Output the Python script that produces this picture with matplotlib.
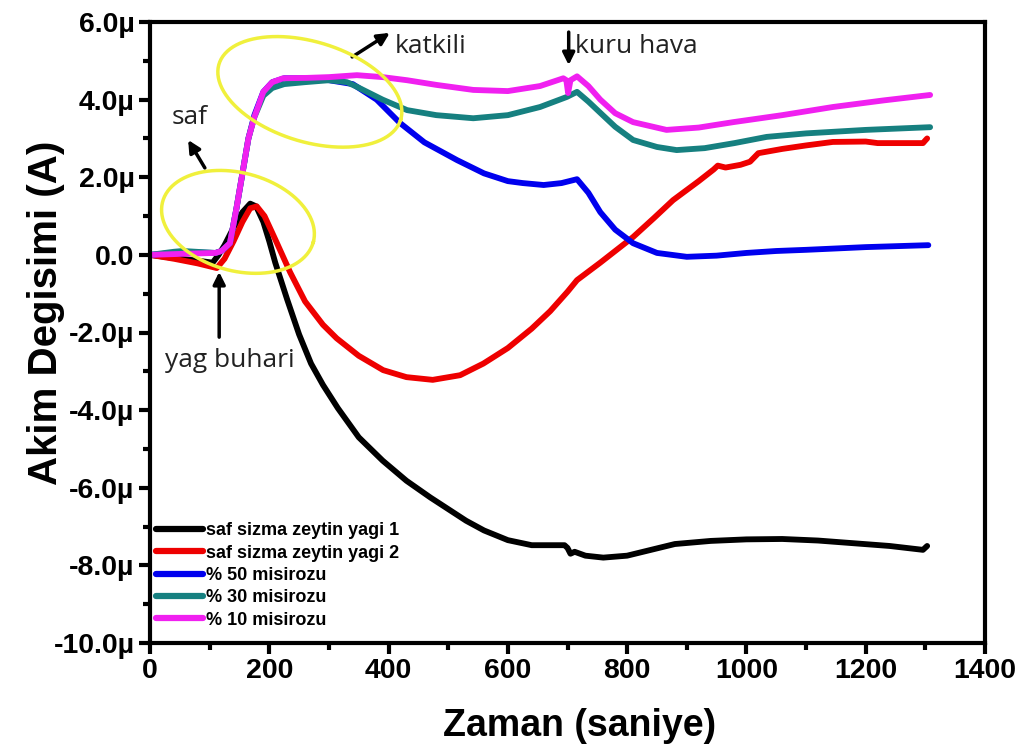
import numpy as np
import matplotlib
matplotlib.use("Agg")
import matplotlib.pyplot as plt
from matplotlib.ticker import MultipleLocator, FuncFormatter

# --- data (time in s, current change in uA) ---
black_x = [0, 40, 80, 105, 115, 125, 140, 155, 168, 178, 190, 200, 210, 230, 250, 270, 290, 315, 350,
           390, 430, 470, 530, 560, 600, 640, 695, 700, 705, 712, 730, 760, 800, 840, 880, 940, 1000,
           1060, 1120, 1180, 1240, 1296, 1303]
black_y = [0, -0.08, -0.15, -0.2, 0.0, 0.25, 0.7, 1.1, 1.32, 1.25, 0.85, 0.35, -0.2, -1.15, -2.05,
           -2.8, -3.35, -3.95, -4.7, -5.3, -5.82, -6.25, -6.85, -7.1, -7.35, -7.48, -7.48, -7.55, -7.7,
           -7.65, -7.75, -7.8, -7.75, -7.6, -7.45, -7.37, -7.33, -7.32, -7.36, -7.43, -7.5, -7.6, -7.5]

red_x = [0, 40, 80, 112, 125, 140, 155, 168, 179, 192, 210, 235, 260, 290, 313, 350, 391, 430, 474, 520,
         559, 600, 640, 671, 700, 716, 755, 780, 810, 845, 877, 920, 945, 952, 965, 990, 1006, 1020, 1060,
         1100, 1145, 1200, 1220, 1241, 1296, 1300, 1303]
red_y = [0, -0.1, -0.22, -0.34, -0.1, 0.35, 0.85, 1.2, 1.25, 1.0, 0.4, -0.45, -1.2, -1.8, -2.15, -2.6,
         -2.97, -3.15, -3.22, -3.1, -2.8, -2.4, -1.9, -1.45, -0.95, -0.65, -0.2, 0.1, 0.46, 0.95, 1.41,
         1.9, 2.2, 2.3, 2.25, 2.32, 2.4, 2.62, 2.73, 2.82, 2.91, 2.92, 2.88, 2.88, 2.88, 2.95, 3.0]

blue_x = [0, 40, 80, 110, 120, 134, 145, 155, 165, 175, 190, 205, 225, 260, 300, 340, 380, 419, 460, 515,
          560, 600, 625, 660, 690, 716, 735, 755, 780, 810, 850, 900, 950, 1000, 1050, 1100, 1200, 1305]
blue_y = [0, 0.05, 0.06, 0.05, 0.1, 0.3, 1.2, 2.1, 3.0, 3.6, 4.2, 4.45, 4.55, 4.55, 4.5, 4.4, 4.0, 3.4,
          2.9, 2.44, 2.1, 1.9, 1.85, 1.8, 1.85, 1.95, 1.6, 1.1, 0.65, 0.3, 0.05, -0.05, -0.02, 0.05, 0.1,
          0.13, 0.2, 0.25]

teal_x = [0, 40, 55, 110, 120, 134, 145, 155, 165, 175, 190, 205, 225, 260, 300, 330, 347, 390, 431, 480,
          542, 600, 654, 699, 716, 735, 755, 780, 810, 850, 883, 930, 980, 1034, 1100, 1200, 1308]
teal_y = [0, 0.08, 0.1, 0.05, 0.1, 0.3, 1.2, 2.1, 3.0, 3.55, 4.1, 4.3, 4.4, 4.45, 4.5, 4.45, 4.33, 4.0,
          3.73, 3.6, 3.52, 3.6, 3.81, 4.07, 4.2, 3.95, 3.66, 3.3, 2.96, 2.78, 2.7, 2.75, 2.88, 3.04, 3.13,
          3.22, 3.29]

mag_x = [0, 40, 110, 120, 134, 145, 155, 165, 175, 190, 205, 223, 263, 300, 347, 390, 431, 480, 542, 600,
         654, 693, 698, 701, 705, 716, 735, 755, 780, 810, 866, 920, 978, 1060, 1145, 1230, 1308]
mag_y = [0, 0.02, 0.05, 0.1, 0.3, 1.2, 2.1, 3.0, 3.55, 4.2, 4.45, 4.55, 4.56, 4.58, 4.63, 4.58, 4.5, 4.38,
         4.25, 4.22, 4.35, 4.55, 4.5, 4.17, 4.5, 4.6, 4.35, 4.0, 3.65, 3.42, 3.22, 3.28, 3.42, 3.6, 3.81,
         3.98, 4.12]

labels = ["saf sizma zeytin yagi 1", "saf sizma zeytin yagi 2", "% 50 misirozu",
          "% 30 misirozu", "% 10 misirozu"]
colors = ["black", "#ee0000", "#0000ee", "#168080", "#f020f0"]

# --- figure ---
fig = plt.figure(figsize=(10.25, 7.46), dpi=100)
ax = fig.add_axes([150 / 1025, 1 - 643 / 746, 835 / 1025, 621 / 746])

series = [(black_x, black_y), (red_x, red_y), (blue_x, blue_y), (teal_x, teal_y), (mag_x, mag_y)]
for (xs, ys), c, lab in zip(series, colors, labels):
    ax.plot(xs, ys, color=c, lw=4.2, label=lab, solid_capstyle="round")

ax.set_xlim(0, 1400)
ax.set_ylim(-10, 6)
ax.xaxis.set_major_locator(MultipleLocator(200))
ax.xaxis.set_minor_locator(MultipleLocator(100))
ax.yaxis.set_major_locator(MultipleLocator(2))
ax.yaxis.set_minor_locator(MultipleLocator(1))


def ufmt(v, pos):
    if abs(v) < 1e-9:
        return "0.0"
    return ("-" if v < 0 else "") + "%.1f\u00b5" % abs(v)


ax.yaxis.set_major_formatter(FuncFormatter(ufmt))
ax.tick_params(which="both", direction="out", width=3, top=False, right=False)
ax.tick_params(which="major", length=8, pad=3)
ax.tick_params(which="minor", length=5)
for lab in ax.get_xticklabels() + ax.get_yticklabels():
    lab.set_fontfamily(["Liberation Sans", "DejaVu Sans"])
    lab.set_fontweight("bold")
    lab.set_fontsize(20.5)
for sp in ax.spines.values():
    sp.set_linewidth(3)

ax.set_xlabel("Zaman (saniye)", fontsize=27, fontweight="bold", family=["Liberation Sans", "DejaVu Sans"])
ax.xaxis.set_label_coords(0.515, -0.105)
ax.set_ylabel("Akim Degisimi (A)", fontsize=29, fontweight="bold",
              family=["Liberation Sans Narrow", "Liberation Sans", "DejaVu Sans"])
ax.yaxis.set_label_coords(-0.102, 0.531)

# --- yellow ellipses (shape set in pixels, placed in data coords) ---
px_x = 1400 / 835
px_y = 16 / 621
t = np.linspace(0, 2 * np.pi, 200)
for cx, cy, a, b, ang in [(147.5, 0.85, 78, 49, -15), (268, 4.2, 95, 50, -17)]:
    th = np.radians(ang)
    dx = a * np.cos(t) * np.cos(th) - b * np.sin(t) * np.sin(th)
    dy = a * np.cos(t) * np.sin(th) + b * np.sin(t) * np.cos(th)
    ax.plot(cx + dx * px_x, cy + dy * px_y, color="#f0f03c", lw=2.5, zorder=5)

# --- annotations ---
afont = ["Open Sans", "DejaVu Sans"]
arw = dict(arrowstyle="-|>", color="black", lw=2.5, mutation_scale=18, shrinkA=0, shrinkB=0)
ax.annotate("", xy=(402, 5.72), xytext=(339, 5.10), arrowprops=arw)
ax.text(411, 5.36, "katkili", fontsize=19, family=afont, ha="left", va="center", color="#222222")
ax.annotate("", xy=(702, 4.89), xytext=(702, 5.74), arrowprops=arw)
ax.text(712, 5.36, "kuru hava", fontsize=19, family=afont, ha="left", va="center", color="#222222")
ax.annotate("", xy=(64, 2.96), xytext=(92, 2.24), arrowprops=arw)
ax.text(67, 3.55, "saf", fontsize=19, family=afont, ha="center", va="center", color="#222222")
ax.annotate("", xy=(116, -0.44), xytext=(116, -2.12), arrowprops=arw)
ax.text(134, -2.71, "yag buhari", fontsize=19, family=afont, ha="center", va="center", color="#222222")

leg = ax.legend(loc="lower left", bbox_to_anchor=(0.005, 0.02), frameon=False, borderaxespad=0,
                borderpad=0.1, handlelength=2.6, handletextpad=0.15, labelspacing=0.3,
                prop=dict(family=["Liberation Sans", "DejaVu Sans"], weight="bold", size=13))
for h in leg.get_lines():
    h.set_linewidth(4.5)

fig.savefig("out.png", dpi=100)
